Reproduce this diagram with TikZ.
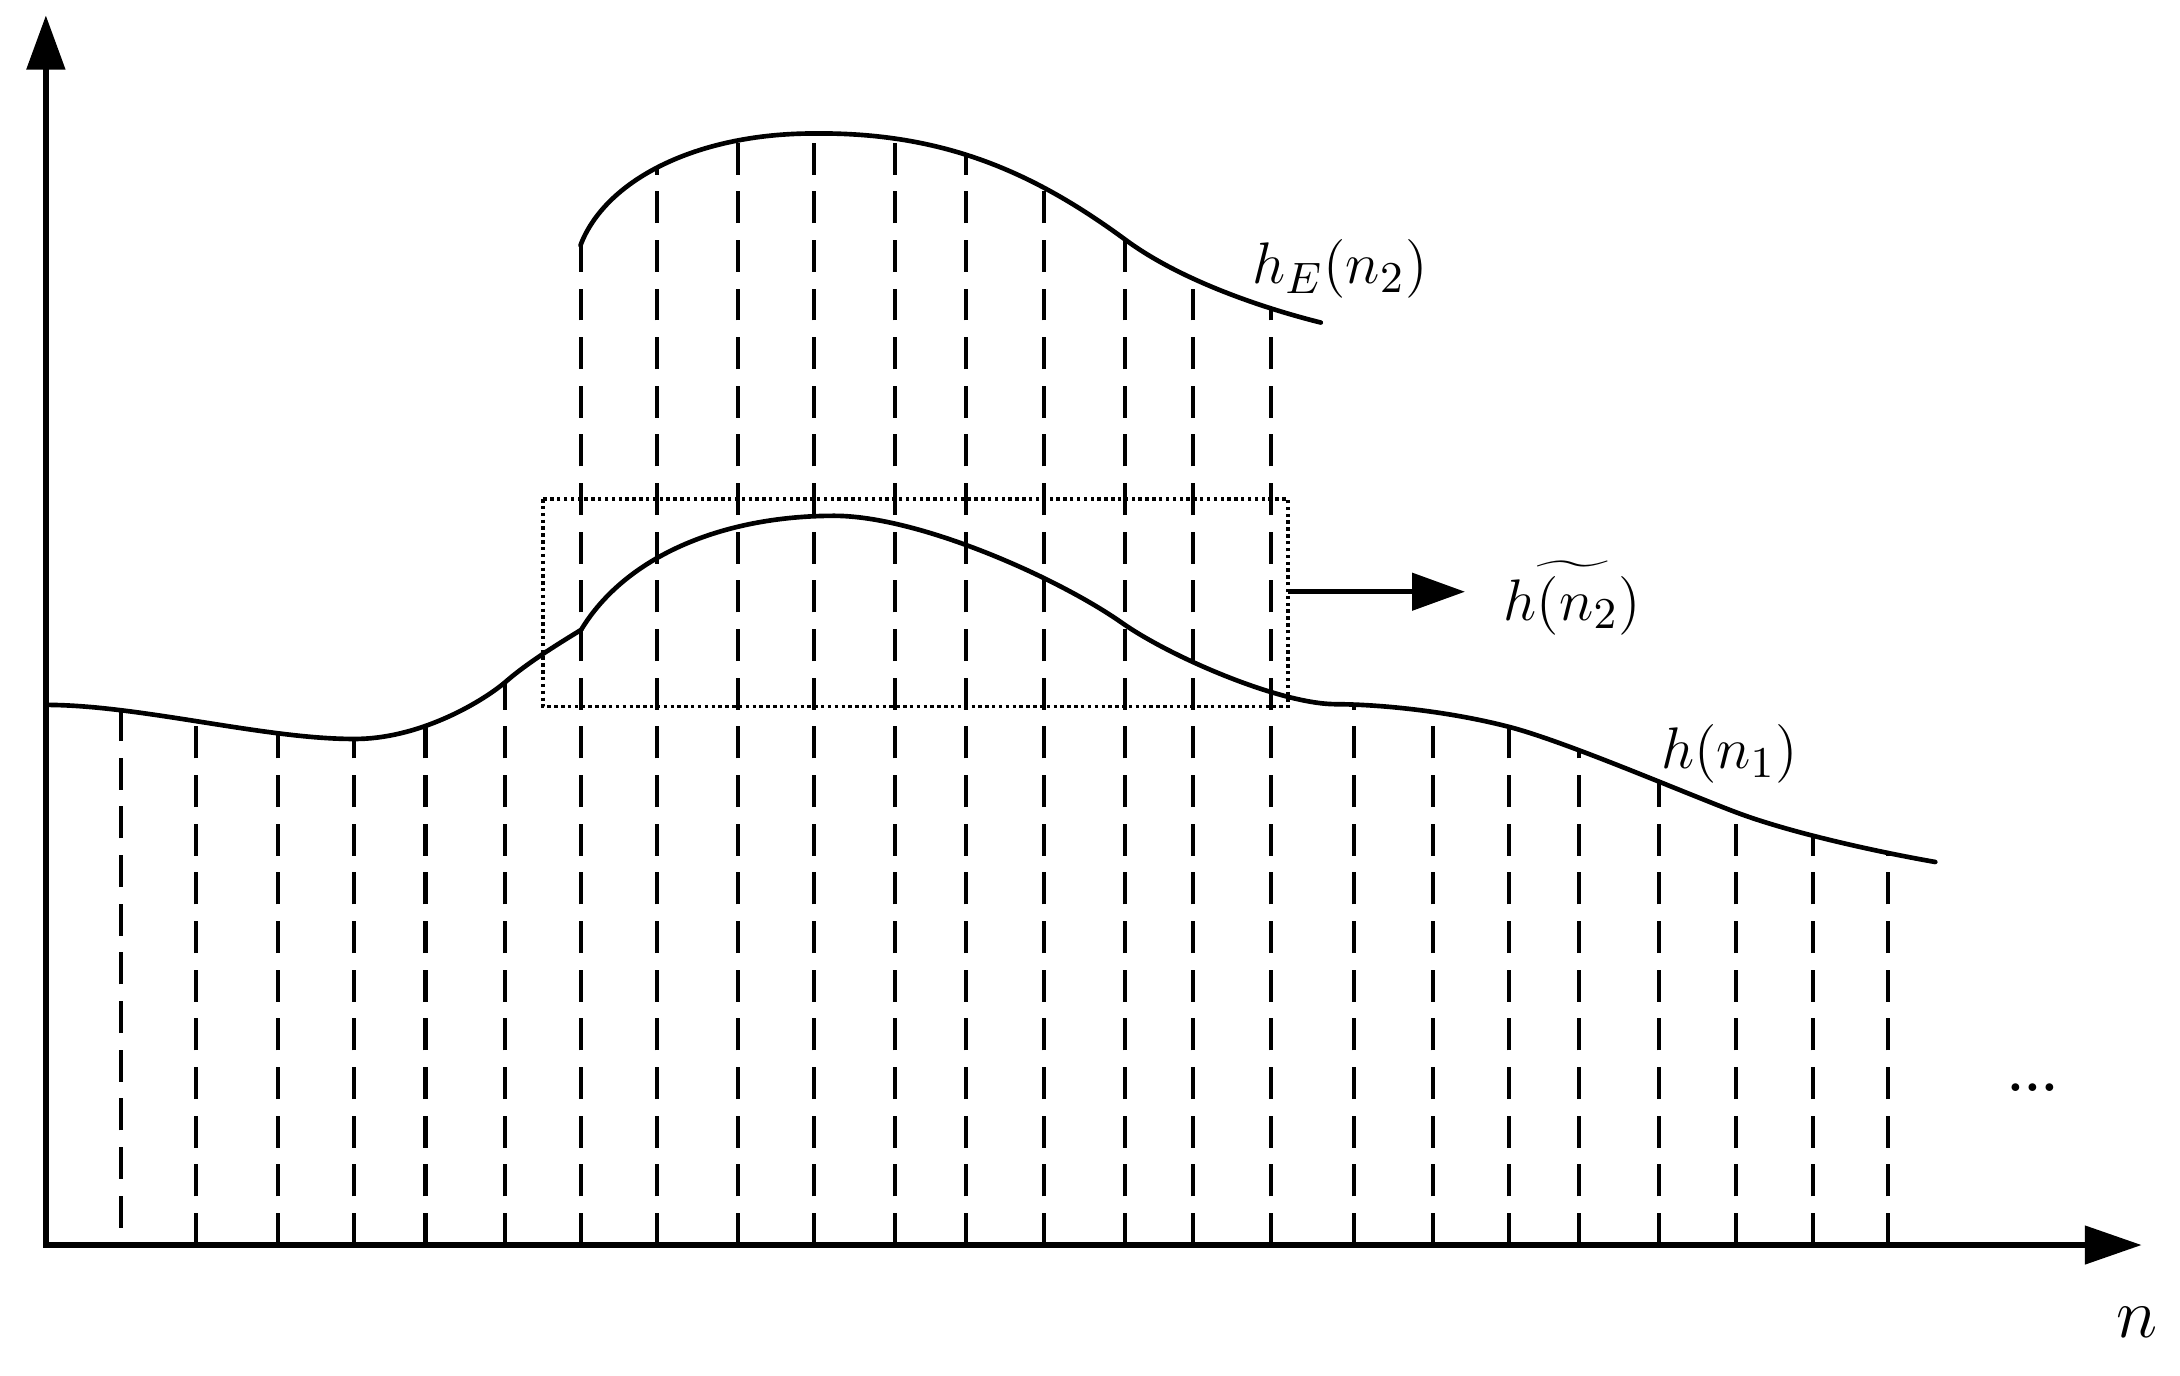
\documentclass[tikz,border=0pt]{standalone}
\usetikzlibrary{arrows.meta,intersections}
\begin{document}
\begin{tikzpicture}[x=0.1mm, y=-0.1mm,
  axis/.style={line width=1.3pt, line join=miter},
  curve/.style={line width=0.95pt, line cap=round},
  dline/.style={line width=0.85pt, dash pattern=on 2.3mm off 1.2mm},
  dotbox/.style={line width=0.7pt, dash pattern=on 0.7pt off 0.7pt},
  smallarr/.style={line width=1pt, -{Triangle[length=3.8mm,width=2.65mm]}},
  lab/.style={inner sep=0pt, font=\fontsize{13}{15}\selectfont}]
\useasboundingbox (0,0) rectangle (1568,989);

% axes
\coordinate (O) at (33,895.5);
\coordinate (O1) at (33,883);
\coordinate (Ytip) at (33,11);
\coordinate (Xtip) at (1540.5,895.5);
\draw[axis, {Triangle[length=3.9mm,width=2.7mm]}-{Triangle[length=4.1mm,width=2.7mm]}] (Ytip) -- (O) -- (Xtip);

% bottom curve h(n1), left part
\draw[curve, name path=botL] (33,507) .. controls (100,507) and (190,531.5) .. (254,531.5)
  .. controls (300,532) and (345,506) .. (363,491)
  .. controls (378,477.7) and (400,464) .. (418,453);
% bottom curve, right part
\draw[curve, name path=botR] (418,453) .. controls (450,400) and (520,371) .. (600,371)
  .. controls (660,371) and (760,415) .. (807,448)
  .. controls (842,472.6) and (920,506) .. (960,506.5)
  .. controls (990,506.5) and (1040,511.1) .. (1085,522.7)
  .. controls (1125,533) and (1208,568.8) .. (1248,584)
  .. controls (1288,599.2) and (1352,613) .. (1392,620);

% top curve h_E(n2)
\draw[curve, name path=topc] (417.5,176.5) .. controls (435,130) and (500,96) .. (585.5,96)
  .. controls (680,95) and (745,125) .. (809.7,172.6)
  .. controls (850,202.3) and (910,222) .. (950,232);

% dashed verticals
\path[name path=v0] (87,0) -- (87,900);
\path[name intersections={of=botL and v0, by={d0}}];
\draw[dline] (d0 |- O1) -- (d0);
\foreach \x [count=\i] in {141,200,254.5,306,363.5} {
  \path[name path=vl\i] (\x,0) -- (\x,900);
  \path[name intersections={of=botL and vl\i, by={dl\i}}];
  \draw[dline] (dl\i |- O) -- (dl\i);
}
\foreach \x [count=\i] in {418,472.6,530.8,585.5,644,694.8,751,809,858,914} {
  \path[name path=vt\i] (\x,0) -- (\x,900);
  \path[name intersections={of=topc and vt\i, by={dt\i}}];
  \draw[dline] (dt\i |- O) -- (dt\i);
}
\foreach \x [count=\i] in {974,1030.5,1085.5,1136,1193,1248.5,1304,1358} {
  \path[name path=vr\i] (\x,0) -- (\x,900);
  \path[name intersections={of=botR and vr\i, by={dr\i}}];
  \draw[dline] (dr\i |- O) -- (dr\i);
}

% dotted box and arrow
\coordinate (R1) at (390.5,359);
\coordinate (R2) at (926.5,508.3);
\draw[dotbox] (R1) rectangle (R2);
\coordinate (A1) at (926.5,425.6);
\coordinate (A2) at (1053.7,425.6);
\draw[smallarr] (A1) -- (A2);

% labels
\node[lab, anchor=base west] (lE) at (900,204) {$h_E(n_2)$};
\node[lab, anchor=base west] (lt) at (1081,446) {$\widetilde{h(n_2)}$};
\node[lab, anchor=base west] (l1) at (1194,552.6) {$h(n_1)$};
\node[lab, font=\fontsize{15}{17}\selectfont, anchor=base] (ln) at (1537,962) {$n$};
\node[inner sep=0pt, font=\fontsize{11}{13}\selectfont\bfseries] (dots) at (1462,782) {...};
\end{tikzpicture}
\end{document}
